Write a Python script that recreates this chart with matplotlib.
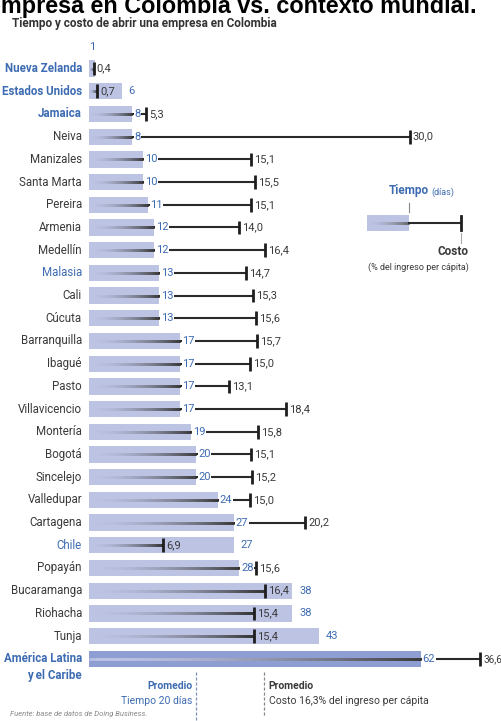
import numpy as np
import matplotlib.pyplot as plt
from matplotlib.collections import LineCollection
from matplotlib.colors import to_rgb

paises = ['Nueva Zelanda', 'Estados Unidos', 'Jamaica', 'Neiva', 'Manizales', 'Santa Marta',
          'Pereira', 'Armenia', 'Medellín', 'Malasia', 'Cali', 'Cúcuta', 'Barranquilla',
          'Ibagué', 'Pasto', 'Villavicencio', 'Montería', 'Bogotá', 'Sincelejo', 'Valledupar',
          'Cartagena', 'Chile', 'Popayán', 'Bucaramanga', 'Riohacha', 'Tunja',
          'América Latina\ny el Caribe']
tiempo = [1, 6, 8, 8, 10, 10, 11, 12, 12, 13, 13, 13, 17, 17, 17, 17, 19, 20, 20, 24,
          27, 27, 28, 38, 38, 43, 62]
costo = [0.4, 0.7, 5.3, 30.0, 15.1, 15.5, 15.1, 14.0, 16.4, 14.7, 15.3, 15.6, 15.7,
         15.0, 13.1, 18.4, 15.8, 15.1, 15.2, 15.0, 20.2, 6.9, 15.6, 16.4, 15.4, 15.4, 36.6]
externos = ['Nueva Zelanda', 'Estados Unidos', 'Jamaica', 'Malasia', 'Chile',
            'América Latina\ny el Caribe']
negrita = ['Nueva Zelanda', 'Estados Unidos', 'Jamaica', 'América Latina\ny el Caribe']
prom_tiempo = 20
prom_costo = 16.3

AZUL = '#3e6cb2'
GRIS = '#3a3a3a'
BARRA = '#bcc3e3'
BARRA_AL = '#8e9dd2'
FUENTE = ['Roboto', 'DejaVu Sans']

# escala: 1 dia = PX pixeles, costo (%) se dibuja al doble
W, H = 502, 721
X0, PX = 89.5, 5.34
Y0, RH = 68.6, 22.7
K = 2.0


def dx(p):
    return (p - X0) / PX


def dy(p):
    return (p - Y0) / RH


fig = plt.figure(figsize=(W / 100, H / 100), dpi=100)
ax = fig.add_axes([0, 0, 1, 1])
ax.set_xlim(dx(0), dx(W))
ax.set_ylim(dy(H), dy(0))
ax.axis('off')


def degradado(x0, x1, y, lw, c0, c1, n=60):
    # tramos solapados para que no queden huecos entre ellos
    xs = np.linspace(x0, x1, n + 1)
    seg = [[(xs[i], y), (xs[min(i + 3, n)], y)] for i in range(n)]
    a, b = np.array(to_rgb(c0)), np.array(to_rgb(c1))
    t = np.linspace(0, 1, n) ** 1.8
    cols = [a + (b - a) * v for v in t]
    ax.add_collection(LineCollection(seg, colors=cols, linewidths=lw, capstyle='butt',
                                     zorder=3))


n = len(paises)
filas = np.arange(n)
h = 0.72
for i in range(n):
    y = filas[i]
    t = tiempo[i]
    c = costo[i] * K
    es_al = i == n - 1
    ax.barh(y, t, height=h, color=BARRA_AL if es_al else BARRA, zorder=2)
    # nombre
    ext = paises[i] in externos
    for j, linea in enumerate(paises[i].split('\n')):
        ax.text(dx(82), y + j * 0.75, linea, ha='right', va='center', fontsize=8.3,
                family=FUENTE, color=AZUL if ext else GRIS,
                fontweight='bold' if paises[i] in negrita else 'normal')
    # linea de costo
    if c <= t:
        degradado(0, c, y, 1.8, BARRA, '#333333')
    else:
        degradado(0, t, y, 1.8, BARRA, '#3a3a3a')
        ax.plot([t, c], [y, y], color='#2a2a2a', lw=1.5, zorder=3, solid_capstyle='butt')
    ax.plot([c, c], [y - 0.3, y + 0.3], color='#1e1e1e', lw=2.0, zorder=4, solid_capstyle='butt')
    ax.text(c + dx(X0 + 3), y, f'{costo[i]:.1f}'.replace('.', ','), ha='left', va='center',
            fontsize=7.2 if es_al else 8, family=FUENTE, color=GRIS, zorder=5)
    # etiqueta de tiempo
    if t < 3:
        ax.text(t / 2, y - 0.95, str(t), ha='center', va='center', fontsize=8,
                family=FUENTE, color=AZUL)
    else:
        xt = t + dx(X0 + 2)
        if c < t:
            xt = t + dx(X0 + 7)
        ax.text(xt, y, str(t), ha='left', va='center', fontsize=8, family=FUENTE,
                color=AZUL, zorder=5,
                bbox=dict(boxstyle='square,pad=0.05', fc='white', ec='none') if c > t else None)

# leyenda
ly = dy(223)
ax.barh(ly, dx(409) - dx(367), left=dx(367), height=h, color=BARRA, zorder=2)
degradado(dx(367), dx(409), ly, 1.8, BARRA, '#666666')
ax.plot([dx(409), dx(461)], [ly, ly], color='#2a2a2a', lw=1.5, zorder=3)
ax.plot([dx(461), dx(461)], [ly - 0.3, ly + 0.3], color='#1e1e1e', lw=2.0, zorder=4)
ax.plot([dx(409), dx(409)], [dy(203), dy(212)], color='#888888', lw=0.8)
ax.plot([dx(461), dx(461)], [dy(233), dy(243)], color='#aaaaaa', lw=0.8)
ax.text(dx(429), dy(191), 'Tiempo', ha='right', va='center', fontsize=8.5, family=FUENTE,
        color=AZUL, fontweight='bold')
ax.text(dx(431), dy(192), '(días)', ha='left', va='center', fontsize=6.5, family=FUENTE,
        color=AZUL)
ax.text(dx(469), dy(252), 'Costo', ha='right', va='center', fontsize=8.5, family=FUENTE,
        color=GRIS, fontweight='bold')
ax.text(dx(469), dy(267), '(% del ingreso per cápita)', ha='right', va='center', fontsize=6.5,
        family=FUENTE, color=GRIS)

# promedios
ax.plot([prom_tiempo, prom_tiempo], [dy(672), dy(720)], color='#7f93b8', lw=0.9,
        ls=(0, (2.5, 1.5)))
ax.plot([prom_costo * K, prom_costo * K], [dy(672), dy(716)], color='#888888', lw=0.9,
        ls=(0, (2.5, 1.5)))
ax.text(prom_tiempo - dx(X0 + 4), dy(686), 'Promedio', ha='right', va='center', fontsize=7.5,
        family=FUENTE, color=AZUL, fontweight='bold')
ax.text(prom_tiempo - dx(X0 + 4), dy(701), 'Tiempo 20 días', ha='right', va='center',
        fontsize=7.5, family=FUENTE, color=AZUL)
ax.text(prom_costo * K + dx(X0 + 5), dy(686), 'Promedio', ha='left', va='center', fontsize=7.5,
        family=FUENTE, color=GRIS, fontweight='bold')
ax.text(prom_costo * K + dx(X0 + 5), dy(701), 'Costo 16,3% del ingreso per cápita', ha='left',
        va='center', fontsize=7.5, family=FUENTE, color=GRIS)

# titulos
fig.text(-12 / W, 1 - 13 / H, 'empresa en Colombia vs. contexto mundial.', ha='left',
         va='baseline', fontsize=16.8, family=['Liberation Sans', 'DejaVu Sans'],
         fontweight='bold', color='black')
fig.text(12 / W, 1 - 24 / H, 'Tiempo y costo de abrir una empresa en Colombia', ha='left',
         va='center', fontsize=8.5, family=FUENTE, color='#333333', fontweight='bold')
fig.text(10 / W, 1 - 714 / H, 'Fuente: base de datos de Doing Business.', ha='left',
         va='center', fontsize=5.5, family=FUENTE, color='#888888', style='italic')

fig.savefig('out.png', dpi=100)
